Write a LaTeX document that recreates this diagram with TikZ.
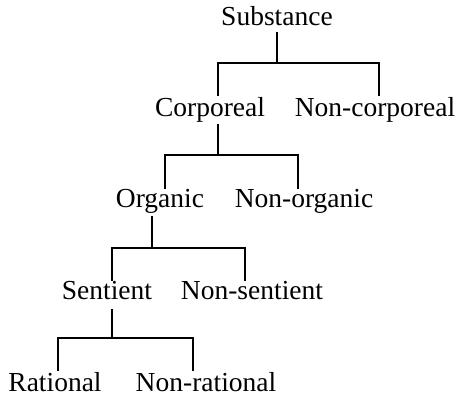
\documentclass[tikz,border=0pt]{standalone}
\usepackage{fontspec}
\setmainfont{Liberation Serif}
\begin{document}
\begin{tikzpicture}[x=1pt,y=-1pt,
  lbl/.style={anchor=base,inner sep=0pt,font=\fontsize{27.5}{30}\selectfont},
  conn/.style={line width=1.8pt,line cap=rect}]
\useasboundingbox (0,0) rectangle (459,398);
% labels
\node[lbl] (sub)  at (277,26)  {Substance};
\node[lbl] (corp) at (210,117) {Corporeal};
\node[lbl] (ncorp) at (375,117) {Non-corporeal};
\node[lbl] (org)  at (160,208) {Organic};
\node[lbl] (norg) at (304,208) {Non-organic};
\node[lbl] (sent) at (107,300) {Sentient};
\node[lbl] (nsent) at (252,300) {Non-sentient};
\node[lbl] (rat)  at (55,392)  {Rational};
\node[lbl] (nrat) at (206,392) {Non-rational};
% junction coordinates
\coordinate (s0) at (277,33);  \coordinate (j0) at (277,63);
\coordinate (l0) at (218,95);  \coordinate (r0) at (379,95);
\coordinate (s1) at (218,125); \coordinate (j1) at (218,155);
\coordinate (l1) at (165,188); \coordinate (r1) at (298,188);
\coordinate (s2) at (152,217); \coordinate (j2) at (152,248);
\coordinate (l2) at (112,280); \coordinate (r2) at (245,280);
\coordinate (s3) at (112,310); \coordinate (j3) at (112,338);
\coordinate (l3) at (58,370);  \coordinate (r3) at (193,370);
% connectors
\foreach \i in {0,1,2,3}{
  \draw[conn] (s\i) -- (j\i);
  \draw[conn] (l\i) |- (j\i) -| (r\i);
}
\end{tikzpicture}
\end{document}
